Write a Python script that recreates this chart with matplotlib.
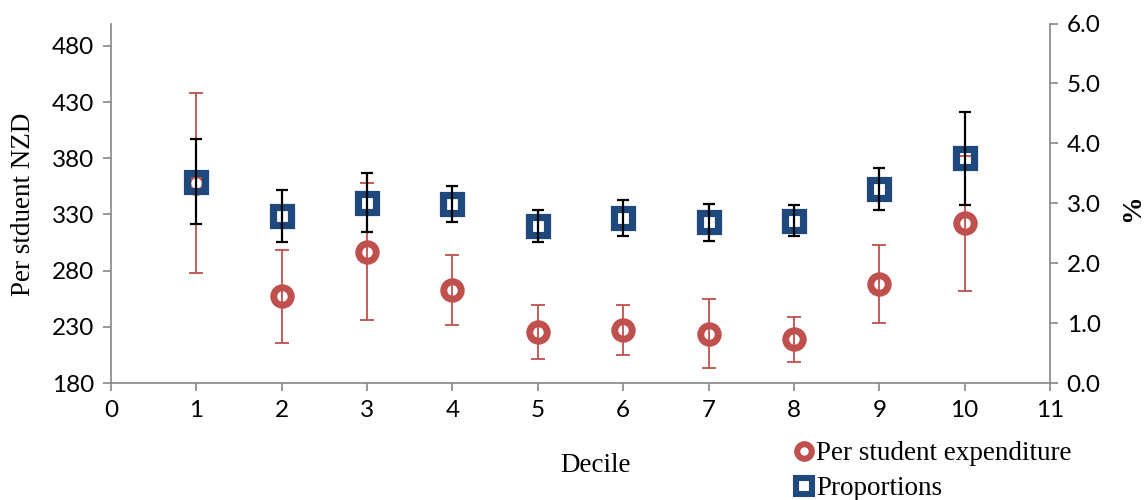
import matplotlib
matplotlib.use("Agg")
import matplotlib.pyplot as plt
from matplotlib.lines import Line2D

# Data
deciles = [1, 2, 3, 4, 5, 6, 7, 8, 9, 10]
expenditure = [358, 257, 297, 263, 225, 227, 224, 219, 268, 322]   # NZD per student
expenditure_err = [80, 41, 61, 31, 24, 22, 31, 20, 35, 60]
proportions = [3.36, 2.79, 3.01, 2.98, 2.62, 2.76, 2.68, 2.71, 3.24, 3.75]  # %
proportions_err = [0.71, 0.43, 0.49, 0.30, 0.26, 0.30, 0.31, 0.26, 0.35, 0.78]

left_ticks = [180, 230, 280, 330, 380, 430, 480]
right_ticks = [0.0, 1.0, 2.0, 3.0, 4.0, 5.0, 6.0]
x_ticks = list(range(0, 12))

RED = "#C0504D"
BLUE = "#1F497D"
SPINE = "#868686"
TICK_FONT = "Lato"
SERIF = "Liberation Serif"

W, H = 1145, 500
fig = plt.figure(figsize=(W / 100, H / 100), dpi=100)
ax = fig.add_axes([111 / W, 1 - 383 / H, (1050 - 111) / W, (383 - 23.5) / H])
ax2 = ax.twinx()

# Per student expenditure on the primary axis
ax.errorbar(deciles, expenditure, yerr=expenditure_err, fmt="none",
            ecolor=RED, elinewidth=1.3, capsize=4.8, capthick=1.3, zorder=2)
ax.plot(deciles, expenditure, linestyle="none", marker="o", markersize=12.6,
        markerfacecolor="none", markeredgecolor=RED, markeredgewidth=5.0, zorder=3)

# Proportions on the secondary axis
ax2.plot(deciles, proportions, linestyle="none", marker="s", markersize=13.0,
         markerfacecolor="none", markeredgecolor=BLUE, markeredgewidth=5.2,
         zorder=3)
ax2.errorbar(deciles, proportions, yerr=proportions_err, fmt="none",
             ecolor="black", elinewidth=1.6, capsize=4.2, capthick=1.6, zorder=4)

ax.set_xlim(0, 11)
ax.set_ylim(180, 500)
ax2.set_ylim(0, 6.0)
ax.set_xticks(x_ticks)
ax.set_yticks(left_ticks)
ax2.set_yticks(right_ticks)
ax2.set_yticklabels([f"{v:.1f}" for v in right_ticks])

for a in (ax, ax2):
    a.spines["top"].set_visible(False)
    for s in ("left", "right", "bottom"):
        a.spines[s].set_color(SPINE)
        a.spines[s].set_linewidth(1.2)
    a.tick_params(axis="both", direction="out", length=6, width=1.2,
                  color=SPINE, labelsize=17.5, labelcolor="black", pad=6)
    for lbl in a.get_xticklabels() + a.get_yticklabels():
        lbl.set_fontfamily(TICK_FONT)
ax.spines["right"].set_visible(False)
ax2.spines["left"].set_visible(False)
ax2.spines["bottom"].set_visible(False)
ax.set_facecolor("none")

# Axis titles
fig.text(24 / W, 1 - 204 / H, "Per stduent NZD", rotation=90, ha="center",
         va="center", fontfamily=SERIF, fontsize=19.5)
fig.text(596 / W, 1 - 465 / H, "Decile", ha="center", va="center",
         fontfamily=SERIF, fontsize=19.5)
fig.text(1133 / W, 1 - 208 / H, "%", rotation=90, ha="center", va="center",
         fontfamily=SERIF, fontsize=20, fontweight="bold")

# Legend
handles = [
    Line2D([], [], linestyle="none", marker="o", markersize=10.5,
           markerfacecolor="none", markeredgecolor=RED, markeredgewidth=4.4),
    Line2D([], [], linestyle="none", marker="s", markersize=11,
           markerfacecolor="none", markeredgecolor=BLUE, markeredgewidth=4.4),
]
fig.legend(handles, ["Per student expenditure", "Proportions"],
           loc="upper left", bbox_to_anchor=(796 / W, 1 - 441 / H),
           frameon=False, handlelength=0.6, handletextpad=0.15,
           borderpad=0, borderaxespad=0, labelspacing=0.38,
           prop={"family": SERIF, "size": 19.5})

fig.savefig("out.png", dpi=100)
